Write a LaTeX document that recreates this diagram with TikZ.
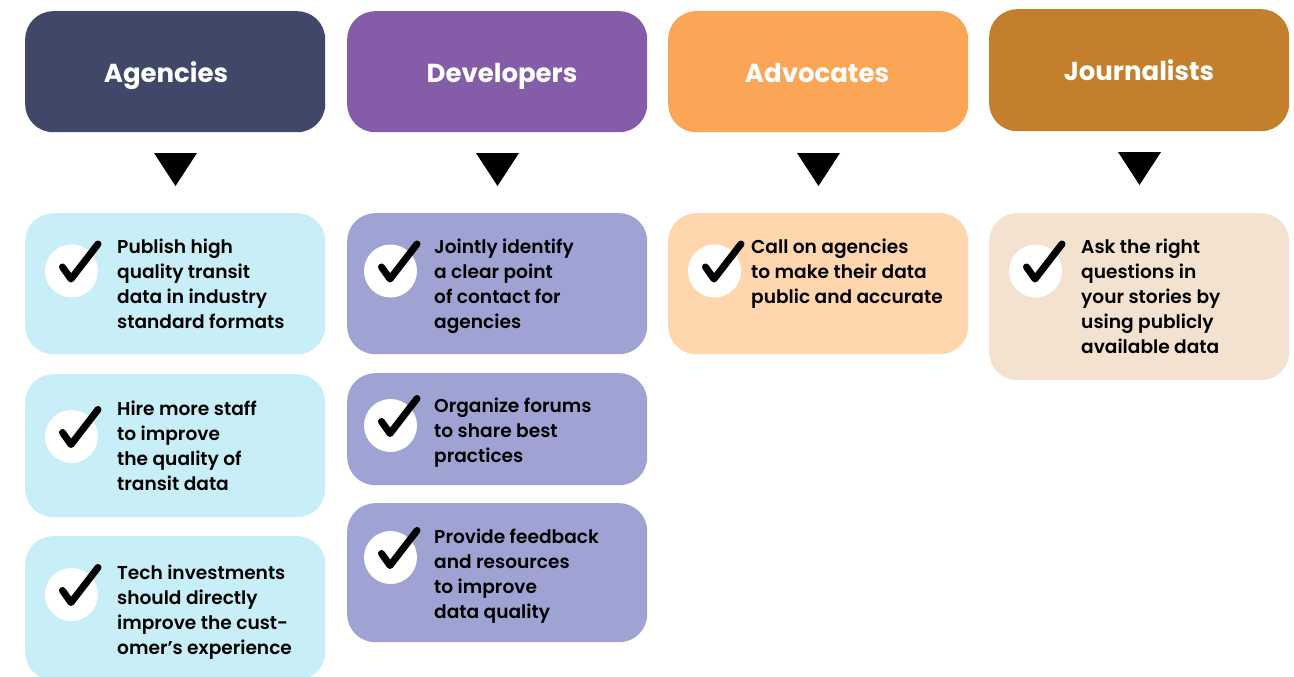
\documentclass[tikz,border=0pt]{standalone}
\usepackage{fontspec}
\usepackage{xcolor}
\setmainfont{Poppins}[BoldFont={Poppins SemiBold}]
\newfontfamily\headfont{Poppins}
\definecolor{agencyhead}{HTML}{3F4868}
\definecolor{devhead}{HTML}{855CA7}
\definecolor{advohead}{HTML}{FBA556}
\definecolor{journohead}{HTML}{C37F2C}
\definecolor{agencyitem}{HTML}{C8EEF7}
\definecolor{devitem}{HTML}{9FA3D3}
\definecolor{advoitem}{HTML}{FFD6AE}
\definecolor{journoitem}{HTML}{F3E2D0}
\tikzset{
  box/.style={anchor=north west, inner sep=0pt, minimum width=300pt, rounded corners=28pt},
  headtext/.style={anchor=base, text=white, font=\headfont\fontsize{26}{30}\bfseries\selectfont, inner sep=0pt},
  itemtext/.style={anchor=north west, align=left, inner sep=0pt, font=\fontsize{18.6}{25}\bfseries\selectfont},
  tickcircle/.style={circle, fill=white, minimum size=53pt, inner sep=0pt},
  tickmark/.pic={\draw[line width=7pt, line cap=round, line join=round] (-9,-4) -- (-0.5,8) -- (26.5,-27);},
  pointer/.style={fill=black}
}
\begin{document}
\begin{tikzpicture}[x=1pt, y=-1pt]
\useasboundingbox (0,0) rectangle (1294,677);

% header boxes
\node[box, fill=agencyhead, minimum height=121pt] (agencies) at (25,11) {};
\node[box, fill=devhead, minimum height=121pt] (developers) at (347,11) {};
\node[box, fill=advohead, minimum height=121pt] (advocates) at (668,11) {};
\node[box, fill=journohead, minimum height=122pt] (journalists) at (989,9) {};

\node[headtext] (agencieslabel) at (166,83) {Agencies};
\node[headtext] (developerslabel) at (502,83) {Developers};
\node[headtext] (advocateslabel) at (817,83) {Advocates};
\node[headtext] (journalistslabel) at (1139,81) {Journalists};

% pointers
\fill[pointer] (154,153) -- (197,153) -- (175.5,186) -- cycle;
\fill[pointer] (476,153) -- (519,153) -- (497.5,186) -- cycle;
\fill[pointer] (797,153) -- (840,153) -- (818.5,186) -- cycle;
\fill[pointer] (1118,152) -- (1161,152) -- (1139.5,185) -- cycle;

% agencies
\node[box, fill=agencyitem, minimum height=141pt] (agency1) at (25,213) {};
\node[box, fill=agencyitem, minimum height=143pt] (agency2) at (25,374) {};
\node[box, fill=agencyitem, minimum height=144pt] (agency3) at (25,536) {};
\node[tickcircle] (agencytick1) at (71.5,271) {};
\node[tickcircle] (agencytick2) at (71.5,436.5) {};
\node[tickcircle] (agencytick3) at (71.5,594.5) {};
\pic at (agencytick1.center) {tickmark};
\pic at (agencytick2.center) {tickmark};
\pic at (agencytick3.center) {tickmark};
\node[itemtext] (agencytext1) at (117,238.5) {Publish high\\quality transit\\data in industry\\standard formats};
\node[itemtext] (agencytext2) at (117,401) {Hire more staff\\to improve\\the quality of\\transit data};
\node[itemtext] (agencytext3) at (117,565) {Tech investments\\should directly\\improve the cust-\\omer’s experience};

% developers
\node[box, fill=devitem, minimum height=141pt] (dev1) at (347,213) {};
\node[box, fill=devitem, minimum height=112pt] (dev2) at (347,373) {};
\node[box, fill=devitem, minimum height=139pt] (dev3) at (347,503) {};
\node[tickcircle] (devtick1) at (390.5,271) {};
\node[tickcircle] (devtick2) at (390.5,425.5) {};
\node[tickcircle] (devtick3) at (390.5,557.5) {};
\pic at (devtick1.center) {tickmark};
\pic at (devtick2.center) {tickmark};
\pic at (devtick3.center) {tickmark};
\node[itemtext] (devtext1) at (434,238.5) {Jointly identify\\a clear point\\of contact for\\agencies};
\node[itemtext] (devtext2) at (434,397.5) {Organize forums\\to share best\\practices};
\node[itemtext] (devtext3) at (434,528.5) {Provide feedback\\and resources\\to improve\\data quality};

% advocates
\node[box, fill=advoitem, minimum height=141pt] (advo1) at (668,213) {};
\node[tickcircle] (advotick1) at (714.5,271) {};
\pic at (advotick1.center) {tickmark};
\node[itemtext] (advotext1) at (751,238.5) {Call on agencies\\to make their data\\public and accurate};

% journalists
\node[box, fill=journoitem, minimum height=167pt] (journo1) at (989,213) {};
\node[tickcircle] (journotick1) at (1035.5,271) {};
\pic at (journotick1.center) {tickmark};
\node[itemtext] (journotext1) at (1081,238.5) {Ask the right\\questions in\\your stories by\\using publicly\\available data};
\end{tikzpicture}
\end{document}
